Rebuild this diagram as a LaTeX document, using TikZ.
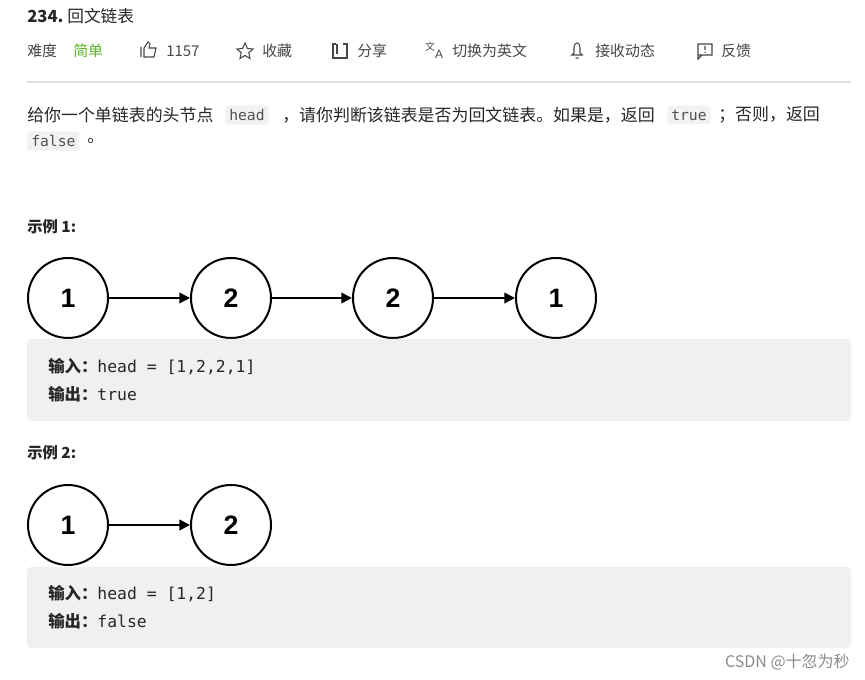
\documentclass[tikz,border=0pt]{standalone}
\usepackage{fontspec}
\setmainfont{Noto Sans CJK SC}
\newfontfamily\cjk{Noto Sans CJK SC}
\newfontfamily\monof{DejaVu Sans Mono}
\newfontfamily\digf{Liberation Sans}
\usetikzlibrary{arrows.meta}
\definecolor{txt}{HTML}{262626}
\definecolor{grn}{HTML}{5AB726}
\definecolor{boxg}{HTML}{F0F0F0}
\definecolor{chip}{HTML}{F2F2F2}
\begin{document}
\begin{tikzpicture}[x=0.75pt,y=-0.75pt,
  lnode/.style={circle,draw,line width=1.5pt,minimum size=60pt,inner sep=0pt,font=\digf\bfseries\fontsize{20}{20}\selectfont},
  link/.style={line width=1.2pt,-{Triangle[length=8pt,width=8pt]}},
  body/.style={anchor=west,inner sep=0pt,text=txt,font=\cjk\fontsize{12.7}{14}\selectfont},
  bar/.style={anchor=west,inner sep=0pt,text=txt!85,font=\cjk\fontsize{11.2}{13}\selectfont},
  codechip/.style={anchor=west,fill=chip,rounded corners=2pt,inner xsep=3pt,inner ysep=3pt,text=txt!80,font=\monof\fontsize{11}{13}\selectfont},
  ex/.style={anchor=west,inner sep=0pt,text=txt,font=\cjk\bfseries\fontsize{11.5}{13}\selectfont},
  boxline/.style={anchor=west,inner sep=0pt,text=txt,font=\monof\fontsize{12.3}{13}\selectfont},
  icon/.style={line width=0.8pt,draw=txt!85}]
\useasboundingbox (0,0) rectangle (865,680);
\fill[white] (0,0) rectangle (865,680);
% title
\node[anchor=west,inner sep=0pt,text=txt,font=\cjk\bfseries\fontsize{12.5}{14}\selectfont] (title) at (27,16) {234.\ \mdseries 回文链表};
% toolbar
\node[bar] (nd) at (27,51) {难度};
\node[bar,text=grn] (easy) at (73,51) {简单};
\draw[icon] (141,57) -- (141,47) (144,57) -- (144,48) -- (148,42) -- (150,44) -- (149,48) -- (156,48) -- (154,57) -- cycle;
\node[bar] (likes) at (166,51) {1157};
\draw[icon] (245,43) -- (247.4,48.5) -- (253,49) -- (248.8,52.8) -- (250,58.5) -- (245,55.5) -- (240,58.5) -- (241.2,52.8) -- (237,49) -- (242.6,48.5) -- cycle;
\node[bar] (fav) at (262,51) {收藏};
\draw[icon] (336,44) -- (333,44) -- (333,58) -- (347,58) -- (347,44) -- (343,44) (337,44) -- (337,54);
\node[bar] (share) at (357,51) {分享};
\node[anchor=center,inner sep=0pt,text=txt!85,font=\cjk\fontsize{7.5}{8}\selectfont] (tr1) at (430,47) {文};
\node[anchor=center,inner sep=0pt,text=txt!85,font=\digf\fontsize{9}{10}\selectfont] (tr2) at (439,54) {A};
\node[bar] (switch) at (452,51) {切换为英文};
\draw[icon] (572,55) -- (574,53) -- (574,48) .. controls (574,44) and (576,43) .. (577,43) .. controls (578,43) and (580,44) .. (580,48) -- (580,53) -- (582,55) -- cycle (575.5,58) -- (578.5,58);
\node[bar] (notify) at (595,51) {接收动态};
\draw[icon] (698,44) rectangle (712,55) (698,55) -- (698,59) -- (702,55) (705,46) -- (705,50) (705,52) -- (705,53);
\node[bar] (fb) at (721,51) {反馈};
\draw[black!12,line width=0.8pt] (27,82) -- (851,82);
% description
\node[body] (d1) at (27,115) {给你一个单链表的头节点};
\node[codechip] (c1) at (225,115) {head};
\node[body] (d2) at (282,115) {，请你判断该链表是否为回文链表。如果是，返回};
\node[codechip] (c2) at (667,115) {true};
\node[body] (d3) at (718,115) {；否则，返回};
\node[codechip] (c3) at (27,141) {false};
\node[body] (d4) at (87,141) {。};
% example 1
\node[ex] (e1) at (27,227) {示例 1:};
\node[lnode] (a1) at (68,298) {1};
\node[lnode] (a2) at (231,298) {2};
\node[lnode] (a3) at (393,298) {2};
\node[lnode] (a4) at (556,298) {1};
\draw[link] (a1) -- (a2);
\draw[link] (a2) -- (a3);
\draw[link] (a3) -- (a4);
\fill[boxg,rounded corners=3pt] (27,339) rectangle (851,421);
\node[boxline] (in1) at (48,367) {{\cjk\bfseries 输入：}head = [1,2,2,1]};
\node[boxline] (out1) at (48,394) {{\cjk\bfseries 输出：}true};
% example 2
\node[ex] (e2) at (27,453) {示例 2:};
\node[lnode] (b1) at (68,525) {1};
\node[lnode] (b2) at (231,525) {2};
\draw[link] (b1) -- (b2);
\fill[boxg,rounded corners=3pt] (27,567) rectangle (851,648);
\node[boxline] (in2) at (48,594) {{\cjk\bfseries 输入：}head = [1,2]};
\node[boxline] (out2) at (48,621) {{\cjk\bfseries 输出：}false};
% watermark
\node[anchor=east,inner sep=0pt,text=black!45,font=\cjk\fontsize{12}{14}\selectfont] (wm) at (850,662) {CSDN @十忽为秒};
\end{tikzpicture}
\end{document}
